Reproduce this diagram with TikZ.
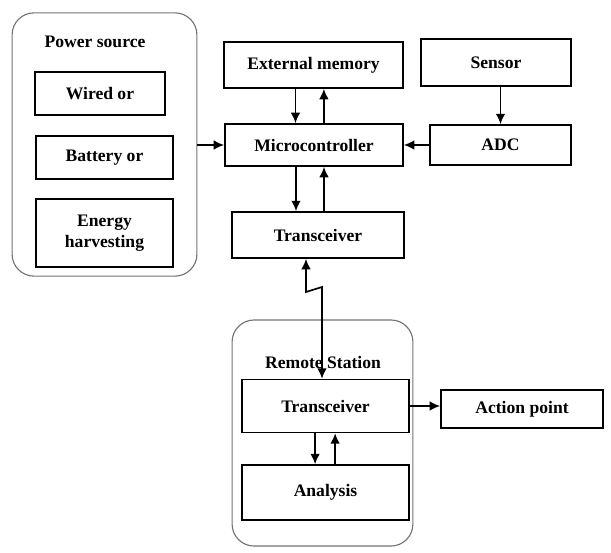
\documentclass[tikz,border=0pt]{standalone}
\usepackage{fontspec}
\setmainfont{Liberation Serif}
\usetikzlibrary{arrows.meta}

\begin{document}
\begin{tikzpicture}[x=0.025cm, y=-0.025cm,
    box/.style={draw, line width=1.2pt, inner sep=0, align=center, font=\fontsize{12.5}{14.5}\selectfont\bfseries},
    group/.style={draw=black!55, line width=0.8pt, rounded corners=0.55cm, inner sep=0},
    lbl/.style={font=\fontsize{12.5}{14.5}\selectfont\bfseries, inner sep=1pt},
    arr/.style={line width=1.2pt, -{Latex[length=2.6mm,width=2.4mm]}},
    link/.style={line width=1.2pt, {Latex[length=2.6mm,width=2.4mm]}-{Latex[length=2.6mm,width=2.4mm]}}]

\useasboundingbox (0,0) rectangle (611,552);

\node[group, minimum width=4.62cm, minimum height=6.58cm] (pwr) at (104.5, 144.5) {};
\node[lbl] (pwrlbl) at (95, 42) {Power source};
\node[box, minimum width=3.25cm, minimum height=1.08cm] (wired) at (100, 93.5) {Wired or};
\node[box, minimum width=3.42cm, minimum height=1.08cm] (battery) at (104.5, 157.5) {Battery or};
\node[box, minimum width=3.42cm, minimum height=1.7cm] (energy) at (104.5, 233) {Energy\\harvesting};

\node[box, minimum width=4.47cm, minimum height=1.15cm] (extmem) at (313.5, 65) {External memory};
\node[box, minimum width=3.75cm, minimum height=1.17cm] (sensor) at (496, 62.5) {Sensor};
\node[box, minimum width=4.45cm, minimum height=1.05cm] (micro) at (314, 145) {Microcontroller};
\node[box, minimum width=3.52cm, minimum height=1cm] (adc) at (500.5, 145) {ADC};
\node[box, minimum width=4.3cm, minimum height=1.15cm] (trans1) at (318, 235) {Transceiver};

\node[group, minimum width=4.52cm, minimum height=5.65cm] (remote) at (322.5, 433) {};
\node[lbl] (remotelbl) at (323, 362) {Remote Station};
\node[box, minimum width=4.17cm, minimum height=1.32cm] (trans2) at (325.5, 406) {Transceiver};
\node[box, minimum width=4.17cm, minimum height=1.37cm] (analysis) at (325.5, 492.5) {Analysis};
\node[box, minimum width=4.05cm, minimum height=0.95cm] (action) at (522, 409) {Action point};

\draw[arr] ([xshift=-0.45cm]extmem.south) -- ([xshift=-0.45cm]extmem.south |- micro.north);
\draw[arr] ([xshift=0.26cm]extmem.south |- micro.north) -- ([xshift=0.26cm]extmem.south);
\draw[arr] (sensor.south -| adc.north) -- (adc.north);
\draw[arr] (pwr.east |- micro) -- (micro.west);
\draw[arr] (adc.west) -- (adc.west -| micro.east);
\draw[arr] ([xshift=-0.45cm]micro.south) -- ([xshift=-0.45cm]micro.south |- trans1.north);
\draw[arr] ([xshift=0.25cm]micro.south |- trans1.north) -- ([xshift=0.25cm]micro.south);

\coordinate (zig1) at (306, 292);
\coordinate (zig2) at (322, 287);
\draw[link] ([xshift=-0.3cm]trans1.south) -- (zig1) -- (zig2) -- (zig2 |- trans2.north);

\draw[arr] ([xshift=-0.26cm]trans2.south) -- ([xshift=-0.26cm]trans2.south |- analysis.north);
\draw[arr] ([xshift=0.24cm]trans2.south |- analysis.north) -- ([xshift=0.24cm]trans2.south);
\draw[arr] (trans2.east) -- (trans2.east -| action.west);

\end{tikzpicture}
\end{document}
